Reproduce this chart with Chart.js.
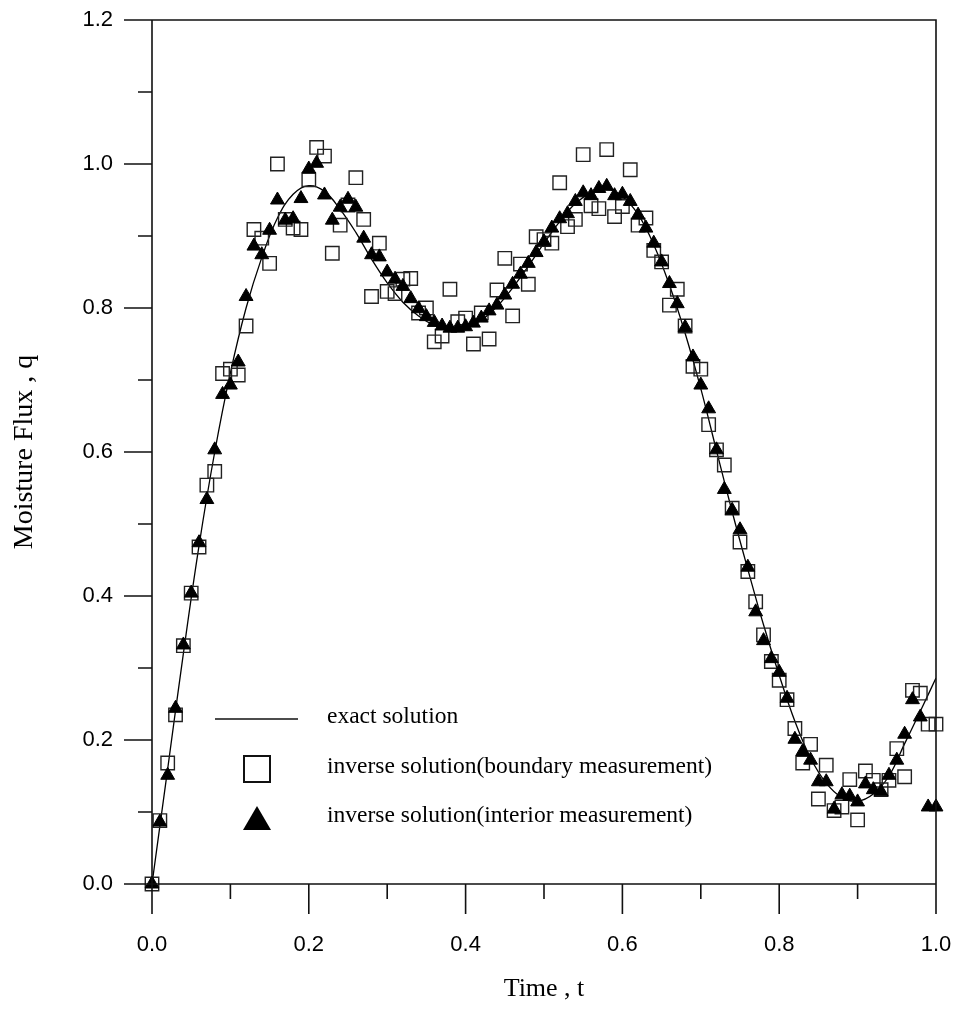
<!DOCTYPE html>
<html>
<head>
<meta charset="utf-8">
<script src="https://cdn.jsdelivr.net/npm/chart.js@4.4.1/dist/chart.umd.min.js"></script>
<style>
    html, body { margin: 0; padding: 0; background: #fff; }
    #wrap { width: 957px; height: 1010px; }
</style>
</head>
<body>
<div id="wrap"><canvas id="flux" width="957" height="1010"></canvas></div>
<script>
// sample times of both inverse solutions
const timeMarks = [
    0.00, 0.01, 0.02, 0.03, 0.04, 0.05, 0.06, 0.07, 0.08, 0.09,
    0.10, 0.11, 0.12, 0.13, 0.14, 0.15, 0.16, 0.17, 0.18, 0.19,
    0.20, 0.21, 0.22, 0.23, 0.24, 0.25, 0.26, 0.27, 0.28, 0.29,
    0.30, 0.31, 0.32, 0.33, 0.34, 0.35, 0.36, 0.37, 0.38, 0.39,
    0.40, 0.41, 0.42, 0.43, 0.44, 0.45, 0.46, 0.47, 0.48, 0.49,
    0.50, 0.51, 0.52, 0.53, 0.54, 0.55, 0.56, 0.57, 0.58, 0.59,
    0.60, 0.61, 0.62, 0.63, 0.64, 0.65, 0.66, 0.67, 0.68, 0.69,
    0.70, 0.71, 0.72, 0.73, 0.74, 0.75, 0.76, 0.77, 0.78, 0.79,
    0.80, 0.81, 0.82, 0.83, 0.84, 0.85, 0.86, 0.87, 0.88, 0.89,
    0.90, 0.91, 0.92, 0.93, 0.94, 0.95, 0.96, 0.97, 0.98, 0.99,
    1.00
];

// inverse solution (boundary measurement) - open squares
const boundaryQ = [
    0.000, 0.088, 0.168, 0.235, 0.331, 0.404, 0.468, 0.554, 0.573, 0.709,
    0.715, 0.707, 0.775, 0.909, 0.897, 0.862, 1.000, 0.923, 0.911, 0.909,
    0.978, 1.023, 1.011, 0.876, 0.915, 0.943, 0.981, 0.923, 0.816, 0.890,
    0.823, 0.820, 0.840, 0.841, 0.793, 0.800, 0.753, 0.761, 0.826, 0.781,
    0.786, 0.750, 0.793, 0.757, 0.825, 0.869, 0.789, 0.861, 0.833, 0.899,
    0.895, 0.890, 0.974, 0.913, 0.923, 1.013, 0.942, 0.938, 1.020, 0.927,
    0.941, 0.992, 0.915, 0.925, 0.880, 0.864, 0.804, 0.826, 0.775, 0.719,
    0.715, 0.638, 0.603, 0.582, 0.522, 0.475, 0.434, 0.392, 0.346, 0.309,
    0.283, 0.256, 0.216, 0.168, 0.194, 0.118, 0.165, 0.102, 0.107, 0.145,
    0.089, 0.157, 0.144, 0.131, 0.144, 0.188, 0.149, 0.269, 0.265, 0.222,
    0.222
];

// inverse solution (interior measurement) - filled triangles
const interiorQ = [
    0.000, 0.086, 0.151, 0.244, 0.332, 0.404, 0.474, 0.534, 0.603, 0.680,
    0.693, 0.725, 0.816, 0.886, 0.874, 0.908, 0.950, 0.922, 0.924, 0.952,
    0.993, 1.001, 0.957, 0.922, 0.940, 0.951, 0.940, 0.897, 0.874, 0.871,
    0.850, 0.840, 0.830, 0.813, 0.799, 0.788, 0.780, 0.775, 0.772, 0.772,
    0.774, 0.779, 0.786, 0.796, 0.804, 0.818, 0.833, 0.847, 0.862, 0.877,
    0.892, 0.911, 0.924, 0.931, 0.948, 0.960, 0.956, 0.966, 0.969, 0.956,
    0.958, 0.948, 0.929, 0.911, 0.890, 0.864, 0.834, 0.806, 0.773, 0.732,
    0.693, 0.660, 0.603, 0.548, 0.519, 0.492, 0.440, 0.378, 0.338, 0.313,
    0.294, 0.258, 0.201, 0.184, 0.172, 0.142, 0.142, 0.104, 0.124, 0.122,
    0.114, 0.139, 0.131, 0.128, 0.151, 0.172, 0.208, 0.256, 0.232, 0.107,
    0.107
];

// exact solution curve
const exactT = [
    0.00, 0.02, 0.04, 0.06, 0.08, 0.10, 0.12, 0.14, 0.16, 0.18,
    0.20, 0.22, 0.24, 0.26, 0.28, 0.30, 0.32, 0.34, 0.36, 0.38,
    0.40, 0.42, 0.44, 0.46, 0.48, 0.50, 0.52, 0.54, 0.56, 0.58,
    0.60, 0.62, 0.64, 0.66, 0.68, 0.70, 0.72, 0.74, 0.76, 0.78,
    0.80, 0.82, 0.84, 0.86, 0.88, 0.90, 0.92, 0.94, 0.96, 0.98,
    1.00
];
const exactQ = [
    0.000, 0.160, 0.320, 0.470, 0.600, 0.710, 0.800, 0.870, 0.925, 0.958,
    0.970, 0.962, 0.937, 0.905, 0.868, 0.835, 0.808, 0.789, 0.776, 0.770,
    0.772, 0.783, 0.802, 0.828, 0.858, 0.890, 0.920, 0.945, 0.960, 0.965,
    0.955, 0.930, 0.888, 0.832, 0.765, 0.688, 0.602, 0.517, 0.437, 0.360,
    0.290, 0.226, 0.175, 0.140, 0.120, 0.115, 0.125, 0.150, 0.195, 0.240,
    0.286
];

const xTickLabels = ['0.0', '0.2', '0.4', '0.6', '0.8', '1.0'];
const yTickLabels = ['0.0', '0.2', '0.4', '0.6', '0.8', '1.0', '1.2'];

const legendLabels = [
    'exact solution',
    'inverse solution(boundary measurement)',
    'inverse solution(interior measurement)'
];

function toPoints(xs, ys) {
    return xs.map(function (x, i) { return { x: x, y: ys[i] }; });
}

function majorLabel(list) {
    return function (value) {
        const s = value.toFixed(1);
        return list.indexOf(s) >= 0 ? s : '';
    };
}

// box, axis lines and the long/short tick marks
const framePlugin = {
    id: 'frame',
    afterDatasetsDraw: function (chart) {
        const ctx = chart.ctx;
        const a = chart.chartArea;
        const xs = chart.scales.x;
        const ys = chart.scales.y;
        ctx.save();
        ctx.strokeStyle = '#111';
        ctx.lineWidth = 1.6;
        ctx.beginPath();
        ctx.rect(a.left, a.top, a.right - a.left, a.bottom - a.top);
        ys.ticks.forEach(function (tk) {
            const y = ys.getPixelForValue(tk.value);
            const len = yTickLabels.indexOf(tk.value.toFixed(1)) >= 0 ? 28 : 14;
            ctx.moveTo(a.left, y);
            ctx.lineTo(a.left - len, y);
        });
        xs.ticks.forEach(function (tk) {
            const x = xs.getPixelForValue(tk.value);
            const len = xTickLabels.indexOf(tk.value.toFixed(1)) >= 0 ? 30 : 15;
            ctx.moveTo(x, a.bottom);
            ctx.lineTo(x, a.bottom + len);
        });
        ctx.stroke();
        ctx.restore();
    }
};

// legend sits inside the plot, lower left
const legendPlugin = {
    id: 'innerLegend',
    afterDraw: function (chart) {
        const ctx = chart.ctx;
        ctx.save();
        ctx.strokeStyle = '#111';
        ctx.fillStyle = '#000';

        ctx.lineWidth = 1.3;
        ctx.beginPath();
        ctx.moveTo(215, 719);
        ctx.lineTo(298, 719);
        ctx.stroke();

        ctx.lineWidth = 2;
        ctx.strokeRect(244, 756, 26, 26);

        ctx.beginPath();
        ctx.moveTo(257, 806);
        ctx.lineTo(271, 830);
        ctx.lineTo(243, 830);
        ctx.closePath();
        ctx.fill();

        ctx.font = '23.5px "Liberation Serif", "Times New Roman", serif';
        ctx.textBaseline = 'middle';
        ctx.textAlign = 'left';
        ctx.fillText(legendLabels[0], 327, 717);
        ctx.fillText(legendLabels[1], 327, 767);
        ctx.fillText(legendLabels[2], 327, 816);
        ctx.restore();
    }
};

const tickFont = { family: '"Liberation Sans", Arial, sans-serif', size: 22 };
const titleFont = { family: '"Liberation Serif", "Times New Roman", serif', size: 26 };

new Chart(document.getElementById('flux'), {
    type: 'scatter',
    data: {
        datasets: [
            {
                label: legendLabels[2],
                data: toPoints(timeMarks, interiorQ),
                pointStyle: 'triangle',
                pointRadius: 8,
                backgroundColor: '#000',
                borderColor: '#000',
                borderWidth: 1,
                clip: false,
                order: 0
            },
            {
                label: legendLabels[1],
                data: toPoints(timeMarks, boundaryQ),
                pointStyle: 'rect',
                pointRadius: 9.5,
                backgroundColor: 'rgba(0,0,0,0)',
                borderColor: '#222',
                borderWidth: 1.4,
                clip: false,
                order: 1
            },
            {
                label: legendLabels[0],
                data: toPoints(exactT, exactQ),
                showLine: true,
                pointRadius: 0,
                borderColor: '#000',
                borderWidth: 1.3,
                tension: 0.4,
                fill: false,
                order: 2
            }
        ]
    },
    options: {
        responsive: false,
        animation: false,
        layout: { padding: { top: 20, right: 21, left: 0, bottom: 0 } },
        plugins: {
            legend: { display: false },
            tooltip: { enabled: false }
        },
        scales: {
            x: {
                type: 'linear',
                min: 0,
                max: 1,
                afterFit: function (s) {
                    s.height = 126;
                    s.paddingLeft = 0;
                    s.paddingRight = 0;
                },
                grid: { display: false, drawTicks: true, tickLength: 30 },
                border: { display: false },
                ticks: {
                    stepSize: 0.1,
                    autoSkip: false,
                    maxRotation: 0,
                    padding: 18,
                    color: '#000',
                    font: tickFont,
                    callback: majorLabel(xTickLabels)
                },
                title: {
                    display: true,
                    text: 'Time , t',
                    color: '#000',
                    font: titleFont,
                    padding: { top: 0, bottom: 5 }
                }
            },
            y: {
                type: 'linear',
                min: 0,
                max: 1.2,
                afterFit: function (s) {
                    s.width = 152;
                    s.paddingTop = 0;
                    s.paddingBottom = 0;
                },
                grid: { display: false, drawTicks: true, tickLength: 28 },
                border: { display: false },
                ticks: {
                    stepSize: 0.1,
                    autoSkip: false,
                    padding: 11,
                    color: '#000',
                    font: tickFont,
                    callback: majorLabel(yTickLabels)
                },
                title: {
                    display: true,
                    text: 'Moisture Flux , q',
                    color: '#000',
                    font: { family: titleFont.family, size: 28 },
                    padding: { top: 8, bottom: 0 }
                }
            }
        }
    },
    plugins: [framePlugin, legendPlugin]
});
</script>
</body>
</html>
